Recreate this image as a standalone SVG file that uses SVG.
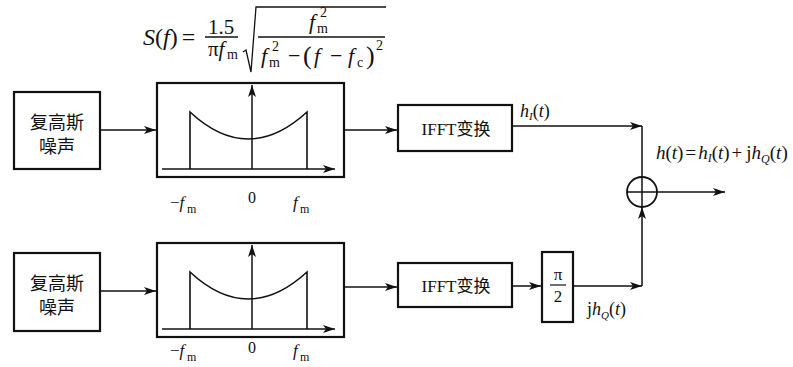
<svg xmlns="http://www.w3.org/2000/svg" width="793" height="367" viewBox="0 0 793 367">
<style>
.box{fill:#fff;stroke:#111;stroke-width:2.2}
.ln{fill:none;stroke:#111;stroke-width:1.5}
.cv{fill:none;stroke:#111;stroke-width:1.6}
.t{font-family:"Liberation Serif","DejaVu Serif",serif;fill:#111}
.i{font-style:italic}
.cn{font-family:"Liberation Serif","Noto Sans CJK SC",serif;fill:#111}
</style>
<defs>
<marker id="ar" viewBox="0 0 12 8" refX="12" refY="4" markerWidth="12" markerHeight="8" markerUnits="userSpaceOnUse" orient="auto">
<path d="M0,0 L12,4 L0,8 L3,4 Z" fill="#111"/>
</marker>
</defs>
<rect width="793" height="367" fill="#fff"/>

<g id="formula">
<text class="t" x="143" y="45" font-size="24"><tspan class="i">S</tspan>(<tspan class="i">f</tspan>)<tspan dx="4">=</tspan></text>
<text class="t" x="221" y="34" font-size="21" text-anchor="middle">1.5</text>
<line x1="205" y1="37" x2="238" y2="37" stroke="#111" stroke-width="1.3"/>
<text class="t" x="208" y="56" font-size="21">π<tspan class="i">f</tspan></text>
<text class="t" x="227" y="59" font-size="14">m</text>
<path d="M243,52 L246,50 L251,72 L256,7 L386,7" fill="none" stroke="#111" stroke-width="1.3"/>
<line x1="258" y1="37" x2="385" y2="37" stroke="#111" stroke-width="1.3"/>
<text class="t i" x="309" y="29" font-size="22">f</text>
<text class="t" x="317" y="33" font-size="14">m</text>
<text class="t" x="320" y="17" font-size="14">2</text>
<text class="t i" x="261" y="63" font-size="22">f</text>
<text class="t" x="269" y="67" font-size="14">m</text>
<text class="t" x="272" y="51" font-size="14">2</text>
<text class="t" x="288" y="63" font-size="22">−</text>
<text class="t" x="303" y="64" font-size="26">(</text>
<text class="t i" x="314" y="63" font-size="22">f</text>
<text class="t" x="330" y="63" font-size="22">−</text>
<text class="t i" x="348" y="63" font-size="22">f</text>
<text class="t" x="357" y="67" font-size="14">c</text>
<text class="t" x="366" y="64" font-size="26">)</text>
<text class="t" x="376" y="50" font-size="14">2</text>
</g>

<g id="noise1">
<rect class="box" x="14" y="92" width="86" height="77"/>
<text class="cn" x="57" y="129" font-size="18" text-anchor="middle">复高斯</text>
<text class="cn" x="57" y="153" font-size="18" text-anchor="middle">噪声</text>
</g>
<g id="spectrum1">
<rect class="box" x="157" y="83" width="187" height="94"/>
<line class="ln" x1="162" y1="169" x2="335" y2="169" marker-end="url(#ar)"/>
<line class="ln" x1="252" y1="169" x2="252" y2="85" marker-end="url(#ar)"/>
<path class="cv" d="M190,169 L190,112 Q248,166 307,112 L307,169"/>
<text class="t" x="170" y="208" font-size="17">−<tspan class="i">f</tspan></text>
<text class="t" x="187" y="213" font-size="12">m</text>
<text class="t" x="252" y="203" font-size="16" text-anchor="middle">0</text>
<text class="t i" x="293" y="208" font-size="17">f</text>
<text class="t" x="300" y="213" font-size="12">m</text>
</g>
<g id="ifft1">
<rect class="box" x="398" y="105" width="114" height="46"/>
<text class="cn" x="456" y="135" font-size="17" text-anchor="middle">IFFT变换</text>
</g>

<g id="noise2">
<rect class="box" x="14" y="253" width="86" height="78"/>
<text class="cn" x="57" y="290" font-size="18" text-anchor="middle">复高斯</text>
<text class="cn" x="57" y="314" font-size="18" text-anchor="middle">噪声</text>
</g>
<g id="spectrum2">
<rect class="box" x="157" y="243" width="187" height="94"/>
<line class="ln" x1="162" y1="329" x2="335" y2="329" marker-end="url(#ar)"/>
<line class="ln" x1="252" y1="329" x2="252" y2="245" marker-end="url(#ar)"/>
<path class="cv" d="M190,329 L190,272 Q248,326 307,272 L307,329"/>
<text class="t" x="170" y="356" font-size="17">−<tspan class="i">f</tspan></text>
<text class="t" x="187" y="361" font-size="12">m</text>
<text class="t" x="252" y="353" font-size="16" text-anchor="middle">0</text>
<text class="t i" x="293" y="356" font-size="17">f</text>
<text class="t" x="300" y="361" font-size="12">m</text>
</g>
<g id="ifft2">
<rect class="box" x="398" y="263" width="114" height="44"/>
<text class="cn" x="456" y="292" font-size="17" text-anchor="middle">IFFT变换</text>
</g>
<g id="phase">
<rect class="box" x="542" y="252" width="31" height="70"/>
<text class="t" x="558" y="280" font-size="17" text-anchor="middle">π</text>
<line x1="550" y1="285" x2="566" y2="285" stroke="#111" stroke-width="1.2"/>
<text class="t" x="558" y="302" font-size="17" text-anchor="middle">2</text>
</g>
<g id="sum">
<circle cx="642" cy="192" r="15" fill="#fff" stroke="#111" stroke-width="1.8"/>
<line x1="627" y1="192" x2="657" y2="192" stroke="#111" stroke-width="1.5"/>
<line x1="642" y1="177" x2="642" y2="207" stroke="#111" stroke-width="1.5"/>
</g>

<g id="connectors">
<line class="ln" x1="100" y1="130" x2="156" y2="130" marker-end="url(#ar)"/>
<line class="ln" x1="344" y1="130" x2="397" y2="130" marker-end="url(#ar)"/>
<line class="ln" x1="512" y1="126" x2="642" y2="126" marker-end="url(#ar)"/>
<line class="ln" x1="642" y1="126" x2="642" y2="177"/>
<line class="ln" x1="100" y1="291" x2="156" y2="291" marker-end="url(#ar)"/>
<line class="ln" x1="344" y1="287" x2="397" y2="287" marker-end="url(#ar)"/>
<line class="ln" x1="512" y1="286" x2="541" y2="286" marker-end="url(#ar)"/>
<line class="ln" x1="573" y1="286" x2="642" y2="286" marker-end="url(#ar)"/>
<line class="ln" x1="642" y1="286" x2="642" y2="207" marker-end="url(#ar)"/>
<line class="ln" x1="657" y1="192" x2="725" y2="192" marker-end="url(#ar)"/>
</g>

<g id="labels">
<text class="t" x="520" y="117" font-size="18"><tspan class="i">h</tspan><tspan class="i" font-size="11" dy="3">I</tspan><tspan dy="-3">(</tspan><tspan class="i">t</tspan>)</text>
<text class="t" x="587" y="315" font-size="18">j<tspan class="i">h</tspan><tspan class="i" font-size="11" dy="4">Q</tspan><tspan dy="-4">(</tspan><tspan class="i">t</tspan>)</text>
<text class="t" x="656" y="159" font-size="19"><tspan class="i">h</tspan>(<tspan class="i">t</tspan>)<tspan dx="2">=</tspan><tspan class="i" dx="2">h</tspan><tspan class="i" font-size="12" dy="3">I</tspan><tspan dy="-3">(</tspan><tspan class="i">t</tspan>)<tspan dx="2">+</tspan><tspan dx="4">j</tspan><tspan class="i">h</tspan><tspan class="i" font-size="12" dy="4">Q</tspan><tspan dy="-4">(</tspan><tspan class="i">t</tspan>)</text>
</g>
</svg>
